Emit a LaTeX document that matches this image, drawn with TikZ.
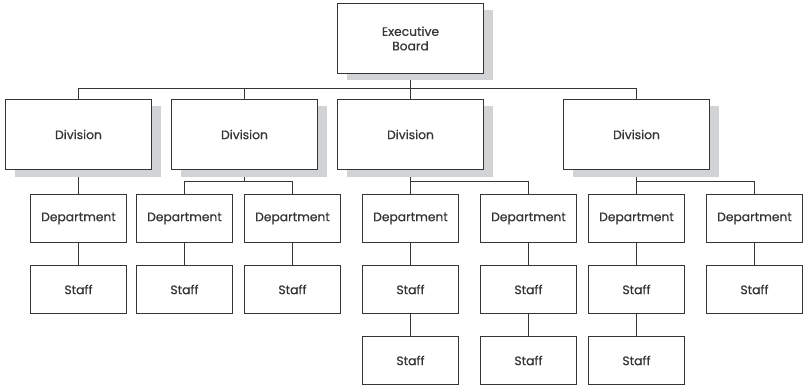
\documentclass[tikz,border=0pt]{standalone}
\usepackage{fontspec}
\setmainfont{Poppins}[RawFeature={embolden=0.5}]
\usetikzlibrary{calc,shadows,backgrounds}
\definecolor{ink}{HTML}{353535}
\definecolor{shade}{HTML}{D2D3D5}
\begin{document}
\begin{tikzpicture}[x=1pt,y=-1pt,
  box/.style={draw=ink,line width=1pt,fill=white,text=ink,align=center,
    inner sep=0pt,font=\fontsize{12.3}{14.5}\selectfont},
  shadowbox/.style={box,general shadow={fill=shade,shadow xshift=9pt,shadow yshift=-7pt}},
  headbox/.style={shadowbox,minimum width=146pt,minimum height=70pt},
  divbox/.style={shadowbox,minimum width=146pt,minimum height=70pt},
  deptbox/.style={box,minimum width=96pt,minimum height=48pt},
  staffbox/.style={box,minimum width=96pt,minimum height=48pt},
  link/.style={draw=ink,line width=1pt},
  % elbow connector with its horizontal run at the given level
  tree/.style={to path={(\tikztostart.south) -- (\tikztostart.south |- 0,#1) -| (\tikztotarget.north)}}]
\useasboundingbox (0,0) rectangle (803,385);

% board
\node[headbox] (exec) at (410.5,38.5) {Executive\\Board};

% divisions
\node[divbox] (div1) at (78.5,134.5) {Division};
\node[divbox] (div2) at (244.5,134.5) {Division};
\node[divbox] (div3) at (410.5,134.5) {Division};
\node[divbox] (div4) at (636.5,134.5) {Division};

% departments
\node[deptbox] (dep1) at (78.5,218.5) {Department};
\node[deptbox] (dep2) at (184.5,218.5) {Department};
\node[deptbox] (dep3) at (292.5,218.5) {Department};
\node[deptbox] (dep4) at (410.5,218.5) {Department};
\node[deptbox] (dep5) at (528.5,218.5) {Department};
\node[deptbox] (dep6) at (636.5,218.5) {Department};
\node[deptbox] (dep7) at (754.5,218.5) {Department};

% staff, first row
\node[staffbox] (st1) at (78.5,289.5) {Staff};
\node[staffbox] (st2) at (184.5,289.5) {Staff};
\node[staffbox] (st3) at (292.5,289.5) {Staff};
\node[staffbox] (st4) at (410.5,289.5) {Staff};
\node[staffbox] (st5) at (528.5,289.5) {Staff};
\node[staffbox] (st6) at (636.5,289.5) {Staff};
\node[staffbox] (st7) at (754.5,289.5) {Staff};

% staff, second row
\node[staffbox] (st4b) at (410.5,360.5) {Staff};
\node[staffbox] (st5b) at (528.5,360.5) {Staff};
\node[staffbox] (st6b) at (636.5,360.5) {Staff};

% connectors under the shadows
\begin{scope}[on background layer]
  \path[link] (exec) edge[tree=88.5] (div1)
                     edge[tree=88.5] (div2)
                     edge[tree=88.5] (div3)
                     edge[tree=88.5] (div4);
  \path[link] (div1) edge (dep1);
  \path[link] (div2) edge[tree=181.5] (dep2) edge[tree=181.5] (dep3);
  \path[link] (div3) edge[tree=181.5] (dep4) edge[tree=181.5] (dep5);
  \path[link] (div4) edge[tree=181.5] (dep6) edge[tree=181.5] (dep7);
  \path[link] (dep1) edge (st1) (dep2) edge (st2) (dep3) edge (st3)
              (dep4) edge (st4) (dep5) edge (st5) (dep6) edge (st6)
              (dep7) edge (st7);
  \path[link] (st4) edge (st4b) (st5) edge (st5b) (st6) edge (st6b);
\end{scope}
\end{tikzpicture}
\end{document}
